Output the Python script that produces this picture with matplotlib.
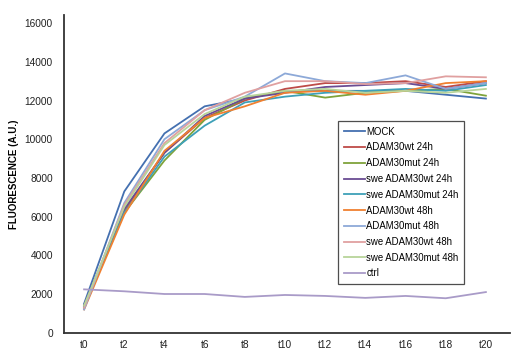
import matplotlib
matplotlib.use("Agg")
import matplotlib.pyplot as plt

categories = ["t0", "t2", "t4", "t6", "t8", "t10", "t12", "t14", "t16", "t18", "t20"]

series_names = ["MOCK", "ADAM30wt 24h", "ADAM30mut 24h", "swe ADAM30wt 24h",
                "swe ADAM30mut 24h", "ADAM30wt 48h", "ADAM30mut 48h",
                "swe ADAM30wt 48h", "swe ADAM30mut 48h", "ctrl"]

mock = [1500, 7300, 10300, 11700, 12100, 12500, 12500, 12500, 12500, 12300, 12100]
adam30wt_24 = [1300, 6300, 9300, 11100, 12000, 12600, 12900, 12900, 13000, 12700, 13000]
adam30mut_24 = [1400, 6200, 8900, 11000, 12100, 12500, 12150, 12400, 12500, 12600, 12250]
swe_wt_24 = [1400, 6400, 9300, 11200, 12100, 12400, 12700, 12800, 12900, 12600, 12900]
swe_mut_24 = [1300, 6200, 9100, 10700, 11900, 12200, 12400, 12500, 12600, 12500, 12800]
adam30wt_48 = [1200, 6100, 9400, 11100, 11700, 12400, 12500, 12300, 12500, 12900, 13000]
adam30mut_48 = [1200, 6700, 10000, 11500, 12200, 13400, 13000, 12900, 13300, 12600, 12900]
swe_wt_48 = [1300, 6600, 9800, 11500, 12400, 13000, 13000, 12850, 12900, 13250, 13200]
swe_mut_48 = [1400, 6500, 9700, 11300, 12200, 12500, 12600, 12400, 12500, 12400, 12600]
ctrl = [2240, 2140, 2000, 2000, 1850, 1950, 1900, 1800, 1900, 1780, 2100]

all_series = [mock, adam30wt_24, adam30mut_24, swe_wt_24, swe_mut_24,
              adam30wt_48, adam30mut_48, swe_wt_48, swe_mut_48, ctrl]
colors = ["#4470B0", "#BE4B48", "#7FA33B", "#6A4C93", "#3EA0B8",
          "#F08030", "#8DA9D8", "#E0A0A0", "#B8D49A", "#A99BC8"]

fig = plt.figure(figsize=(5.13, 3.49), dpi=100)
ax = fig.add_axes([64/513, 1 - 332.7/349, (510 - 64)/513, (332.7 - 15)/349])

x = list(range(len(categories)))
for name, vals, c in zip(series_names, all_series, colors):
    ax.plot(x, vals, color=c, lw=1.3, label=name)

ax.set_xlim(-0.5, 10.6)
ax.set_ylim(0, 16420)
ax.set_yticks(range(0, 16001, 2000))
ax.set_yticklabels([str(v) for v in range(0, 16001, 2000)],
                   fontsize=7.3, family="Liberation Sans", color="#222222")
ax.set_xticks(x)
ax.set_xticklabels(categories, fontsize=7.3, family="Liberation Sans", color="#222222")
ax.tick_params(axis="both", length=0)
ax.tick_params(axis="y", pad=8)
ax.tick_params(axis="x", pad=5)
for s in ["top", "right"]:
    ax.spines[s].set_visible(False)
for s in ["left", "bottom"]:
    ax.spines[s].set_color("#333333")
    ax.spines[s].set_linewidth(1.3)

ax.set_ylabel("FLUORESCENCE (A.U.)", fontsize=7, fontweight="bold",
              family="Liberation Sans", labelpad=4)

leg = ax.legend(loc="upper left", bbox_to_anchor=((338 - 64)/446, (332.7 - 121)/317.7),
                prop={"family": "Liberation Sans", "size": 6.9},
                frameon=True, fancybox=False, handlelength=2.2, handletextpad=0.15,
                labelspacing=0.6, borderpad=0.6, borderaxespad=0)
leg.get_frame().set_edgecolor("#222222")
leg.get_frame().set_linewidth(0.9)

fig.savefig("out.png", dpi=100)
